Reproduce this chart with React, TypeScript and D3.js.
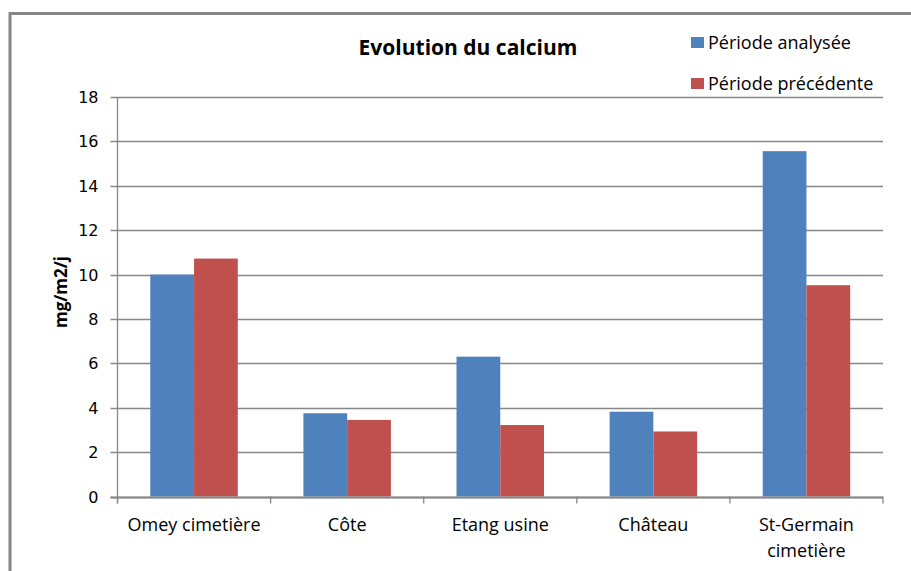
import * as d3 from "d3";

const categories = ["Omey cimetière", "Côte", "Etang usine", "Château", "St-Germain\ncimetière"];
const seriesNames = ["Période analysée", "Période précédente"];
const analysee = [10.0, 3.75, 6.3, 3.82, 15.56];
const precedente = [10.72, 3.45, 3.22, 2.93, 9.52];
const yTicks = [0, 2, 4, 6, 8, 10, 12, 14, 16, 18];
const colors = ["#4f81bd", "#c0504d"];

const W = 911;
const H = 571;
const margin = { top: 97, right: 28, bottom: 74.5, left: 117.5 };

export default function App() {
  const innerW = W - margin.left - margin.right;
  const innerH = H - margin.top - margin.bottom;

  const x = d3.scaleBand<string>().domain(categories).range([0, innerW]).paddingInner(0).paddingOuter(0);
  const bw = x.bandwidth();
  const barW = bw / 3.5;
  const groupOffset = (bw - 2 * barW) / 2;
  const y = d3.scaleLinear().domain([0, 18]).range([innerH, 0]);

  const series = [analysee, precedente];
  const grid = "#878787";
  const font = "'Open Sans', sans-serif";

  return (
    <svg width={W} height={H} style={{ position: "absolute", left: 0, top: 0, background: "#fff" }}>
      {/* outer frame */}
      <rect x={10} y={13.5} width={1000} height={1000} fill="none" stroke="#868686" strokeWidth={3} />

      <text x={468} y={55} textAnchor="middle" fontFamily={font} fontWeight="bold" fontSize={21} fill="#000">
        Evolution du calcium
      </text>

      {/* legend */}
      {seriesNames.map((s, i) => (
        <g key={s} transform={`translate(691,${37 + i * 41})`}>
          <rect width={13} height={11} fill={colors[i]} />
          <text x={17} y={5.5} dy="0.35em" fontFamily={font} fontSize={18} fill="#000">
            {s}
          </text>
        </g>
      ))}

      {/* y label */}
      <text
        transform={`translate(67,292) rotate(-90)`}
        textAnchor="middle"
        fontFamily={font}
        fontWeight="bold"
        fontSize={17}
        fill="#000"
      >
        mg/m2/j
      </text>

      <g transform={`translate(${margin.left},${margin.top})`}>
        {/* gridlines */}
        {yTicks.map((t) => (
          <g key={t}>
            <line x1={-7} x2={innerW} y1={Math.round(y(t)) + 0.5} y2={Math.round(y(t)) + 0.5} stroke={grid} strokeWidth={1.3} />
            <text
              x={-19}
              y={Math.round(y(t))}
              dy="0.36em"
              textAnchor="end"
              fontFamily="'DejaVu Sans', sans-serif"
              fontSize={16}
              fill="#000"
            >
              {t}
            </text>
          </g>
        ))}

        {/* bars */}
        {categories.map((c, ci) =>
          series.map((vals, si) => (
            <rect
              key={c + si}
              x={(x(c) ?? 0) + groupOffset + si * barW}
              y={y(vals[ci])}
              width={barW}
              height={innerH - y(vals[ci])}
              fill={colors[si]}
            />
          ))
        )}

        {/* axes */}
        <line x1={0} x2={0} y1={0} y2={innerH + 7} stroke={grid} strokeWidth={1.3} />
        <line x1={-7} x2={innerW} y1={Math.round(innerH) + 0.5} y2={Math.round(innerH) + 0.5} stroke={grid} strokeWidth={2} />
        {categories.map((c, i) => (
          <line key={"t" + i} x1={(x(c) ?? 0)} x2={(x(c) ?? 0)} y1={innerH} y2={innerH + 7} stroke={grid} strokeWidth={1.3} />
        ))}
        <line x1={innerW} x2={innerW} y1={innerH} y2={innerH + 7} stroke={grid} strokeWidth={1.3} />

        {/* category labels */}
        {categories.map((c) => {
          const lines = c.split("\n");
          return (
            <text
              key={c}
              x={(x(c) ?? 0) + bw / 2}
              y={innerH + 28}
              textAnchor="middle"
              fontFamily={font}
              fontSize={18}
              fill="#000"
            >
              {lines.map((l, li) => (
                <tspan key={li} x={(x(c) ?? 0) + bw / 2} dy={li === 0 ? "0.35em" : 26}>
                  {l}
                </tspan>
              ))}
            </text>
          );
        })}
      </g>
    </svg>
  );
}
